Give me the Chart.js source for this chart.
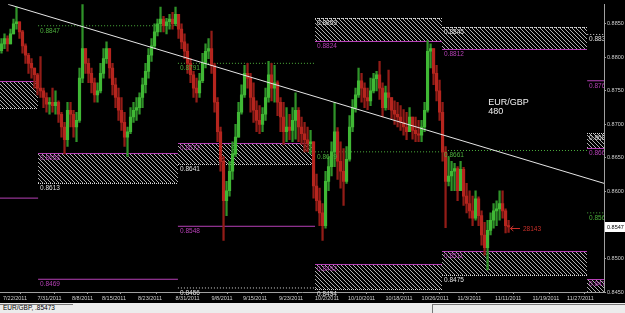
<!DOCTYPE html>
<html>
<head>
<meta charset="utf-8">
<script src="https://cdn.jsdelivr.net/npm/chart.js@4/dist/chart.umd.min.js"></script>
<style>
  html, body { margin: 0; padding: 0; background: #000; }
  #chart { display: block; }
  #tab { position: relative; width: 625px; height: 10px; background: #ececec; overflow: hidden;
         font: 6.5px "Liberation Sans", Arial, sans-serif; color: #000; line-height: 10px; }
  #tab span { position: absolute; left: 3px; top: 0; }
  #tab i { position: absolute; left: 0; top: 1px; width: 73px; border-top: 1px solid #777; }
  #tab b { position: absolute; left: 432px; top: 1px; right: 0; height: 9px; border-top: 1px solid #777; border-left: 1px solid #777; }
</style>
</head>
<body>
<canvas id="chart" width="625" height="303"></canvas>
<div id="tab"><i></i><b></b><span>EUR/GBP, .85473</span></div>
<script>
// EUR/GBP candles, one every half day
const firstOpen = 0.8810;
const close = [
  .8820,.8828,.8820,.8835,.8850,.8853,.8838,.8817,.8803,.8791,
  .8784,.8774,.8754,.8750,.8740,.8730,.8733,.8728,.8733,.8715,
  .8696,.8677,.8721,.8715,.8696,.8706,.8769,.8813,.8791,.8776,
  .8762,.8744,.8750,.8776,.8798,.8813,.8784,.8759,.8740,.8721,
  .8703,.8681,.8689,.8711,.8721,.8725,.8740,.8759,.8779,.8803,
  .8817,.8838,.8850,.8857,.8847,.8853,.8857,.8850,.8864,.8842,
  .8823,.8809,.8791,.8774,.8754,.8747,.8765,.8791,.8809,.8813,
  .8788,.8733,.8689,.8645,.8586,.8601,.8630,.8656,.8681,.8718,
  .8744,.8776,.8769,.8740,.8721,.8706,.8700,.8715,.8740,.8774,
  .8754,.8762,.8733,.8711,.8689,.8696,.8691,.8706,.8721,.8696,
  .8686,.8677,.8671,.8674,.8608,.8586,.8568,.8549,.8615,.8637,
  .8659,.8689,.8645,.8630,.8615,.8648,.8696,.8725,.8744,.8765,
  .8754,.8740,.8735,.8750,.8768,.8774,.8754,.8725,.8747,.8740,
  .8721,.8715,.8711,.8703,.8696,.8689,.8711,.8691,.8686,.8684,
  .8696,.8721,.8809,.8813,.8776,.8750,.8718,.8659,.8615,.8623,
  .8630,.8634,.8601,.8633,.8593,.8582,.8571,.8560,.8589,.8564,
  .8535,.8516,.8542,.8557,.8571,.8574,.8582,.8571,.8549,.8547
];
const high = [
  .8828,.8835,.8832,.8842,.8857,.8875,.8853,.8840,.8820,.8806,
  .8798,.8784,.8776,.8801,.8754,.8747,.8740,.8754,.8750,.8735,
  .8718,.8703,.8733,.8733,.8721,.8718,.8784,.8879,.8813,.8798,
  .8784,.8769,.8762,.8791,.8813,.8823,.8813,.8791,.8769,.8754,
  .8740,.8718,.8696,.8725,.8733,.8740,.8747,.8769,.8791,.8813,
  .8828,.8850,.8857,.8875,.8861,.8858,.8864,.8867,.8875,.8864,
  .8850,.8835,.8820,.8798,.8779,.8769,.8776,.8806,.8820,.8828,
  .8839,.8791,.8740,.8696,.8652,.8615,.8645,.8674,.8700,.8733,
  .8759,.8788,.8791,.8776,.8762,.8735,.8728,.8725,.8754,.8794,
  .8791,.8788,.8765,.8740,.8733,.8725,.8715,.8725,.8747,.8725,
  .8711,.8703,.8696,.8691,.8674,.8626,.8605,.8582,.8630,.8652,
  .8674,.8733,.8695,.8674,.8664,.8667,.8713,.8737,.8754,.8784,
  .8776,.8762,.8754,.8769,.8776,.8779,.8794,.8762,.8757,.8781,
  .8740,.8735,.8733,.8728,.8722,.8718,.8725,.8711,.8711,.8706,
  .8706,.8733,.8825,.8820,.8813,.8788,.8766,.8733,.8667,.8652,
  .8645,.8642,.8637,.8645,.8636,.8612,.8601,.8593,.8601,.8592,
  .8571,.8554,.8557,.8568,.8582,.8586,.8601,.8601,.8574,.8557
];
const low = [
  .8806,.8813,.8809,.8820,.8835,.8842,.8828,.8806,.8791,.8776,
  .8769,.8754,.8744,.8740,.8725,.8718,.8715,.8718,.8715,.8703,
  .8681,.8656,.8667,.8696,.8681,.8674,.8703,.8762,.8776,.8762,
  .8747,.8733,.8733,.8747,.8769,.8791,.8769,.8744,.8725,.8706,
  .8691,.8667,.8652,.8686,.8703,.8706,.8715,.8725,.8747,.8769,
  .8794,.8813,.8832,.8838,.8838,.8835,.8842,.8842,.8847,.8828,
  .8813,.8798,.8776,.8762,.8740,.8733,.8740,.8762,.8784,.8798,
  .8776,.8718,.8674,.8630,.8527,.8564,.8593,.8618,.8652,.8681,
  .8715,.8740,.8754,.8718,.8703,.8689,.8686,.8689,.8706,.8733,
  .8735,.8733,.8713,.8689,.8670,.8674,.8677,.8674,.8678,.8674,
  .8670,.8659,.8659,.8656,.8590,.8571,.8549,.8527,.8545,.8601,
  .8623,.8637,.8618,.8605,.8579,.8612,.8645,.8689,.8718,.8740,
  .8733,.8725,.8722,.8728,.8747,.8750,.8737,.8711,.8721,.8722,
  .8708,.8700,.8696,.8691,.8684,.8677,.8689,.8678,.8674,.8674,
  .8674,.8689,.8718,.8784,.8759,.8735,.8706,.8645,.8546,.8608,
  .8601,.8601,.8586,.8601,.8579,.8568,.8560,.8549,.8557,.8549,
  .8520,.8505,.8483,.8535,.8545,.8549,.8557,.8560,.8538,.8539
];

// date ticks (bar index where each label starts)
const datePos = [0.5, 12, 23.5, 33.5, 45.5, 58, 70, 80.5, 92.5, 104.5, 115.5, 128, 140, 152, 164.5, 177, 188.5];
const dateLabels = ['7/22/2011','7/31/2011','8/8/2011','8/15/2011','8/23/2011','8/31/2011','9/8/2011','9/15/2011',
  '9/23/2011','10/2/2011','10/10/2011','10/18/2011','10/26/2011','11/3/2011','11/11/2011','11/19/2011','11/27/2011'];
const priceTicks = [0.845, 0.850, 0.855, 0.860, 0.865, 0.870, 0.875, 0.880, 0.885];

// monthly hatched zones
const zoneFrom = [-0.5, 12.2, 58.8, 104.5, 104.5, 146.8, 146.8, 195.2, 195.2];
const zoneTo   = [12.2, 58.8, 104.5, 146.8, 146.8, 195.2, 195.2, 201, 201];
const zoneHigh = [0.8765, 0.8658, 0.8672, 0.8859, 0.8492, 0.8845, 0.8511, 0.8687, 0.8470];
const zoneLow  = [0.8725, 0.8613, 0.8641, 0.8824, 0.8454, 0.8812, 0.8475, 0.8665, 0.8450];

// single levels
const lineFrom  = [-0.5, 12.2, 12.2, 58.8, 58.8, 58.8, 104.5, 146.8, 195.2, 195.2, 195.2];
const lineTo    = [12.2, 58.8, 58.8, 104.5, 104.5, 104.5, 146.8, 195.2, 201, 201, 201];
const linePrice = [0.8590, 0.8847, 0.8469, 0.8791, 0.8548, 0.8456, 0.8659, 0.8661, 0.8834, 0.8765, 0.8568];

// trend line
const trendX = [2.2, 200.8];
const trendY = [0.8879, 0.8612];

// ---- styles ----
const GREEN = '#40b835', GREEN_W = '#2f9229', RED = '#b5251e', RED_W = '#921c17';
const MAGENTA = '#b640b6', LVL_GREEN = '#4caf3c', DOTS = '#d8d8d8';
const FONT = '"Liberation Sans", Arial, sans-serif';
const zoneMagenta = ['top', 'top', 'top', 'bottom', 'top', 'bottom', 'top', 'bottom', 'top'];
const lineKind = ['m', 'g', 'm', 'g', 'm', 'w', 'g', 'g', 'w', 'm', 'g'];

const opens = close.map((c, i) => i === 0 ? firstOpen : close[i - 1]);
const isUp = i => close[i] >= opens[i];

function makeHatch() {
  const c = document.createElement('canvas');
  c.width = 4; c.height = 4;
  const g = c.getContext('2d');
  g.fillStyle = '#b0b0b0';
  for (let i = 0; i < 4; i++) g.fillRect(i, i, 1, 1);
  return g.createPattern(c, 'repeat');
}
const hatch = makeHatch();

function hline(ctx, x0, x1, y, color, dotted) {
  ctx.save();
  ctx.strokeStyle = color;
  ctx.lineWidth = 1;
  ctx.setLineDash(dotted ? [1, 1] : []);
  ctx.beginPath();
  ctx.moveTo(x0, y + 0.5);
  ctx.lineTo(x1, y + 0.5);
  ctx.stroke();
  ctx.restore();
}

const overlay = {
  id: 'overlay',
  beforeDatasetsDraw(chart) {
    const { ctx, chartArea: a, scales: { x, y } } = chart;
    ctx.save();
    ctx.beginPath();
    ctx.rect(a.left, a.top, a.right - a.left, a.bottom - a.top);
    ctx.clip();
    zoneFrom.forEach((f, k) => {
      const x0 = Math.round(x.getPixelForValue(f));
      const x1 = Math.round(x.getPixelForValue(zoneTo[k]));
      const y0 = Math.round(y.getPixelForValue(zoneHigh[k]));
      const y1 = Math.round(y.getPixelForValue(zoneLow[k]));
      ctx.fillStyle = hatch;
      ctx.fillRect(x0, y0, x1 - x0, y1 - y0);
      const magTop = zoneMagenta[k] === 'top';
      hline(ctx, x0, x1, y0, magTop ? MAGENTA : DOTS, !magTop);
      hline(ctx, x0, x1, y1, magTop ? DOTS : MAGENTA, magTop);
    });
    ctx.restore();
  },
  afterDatasetsDraw(chart) {
    const { ctx, chartArea: a, scales: { x, y } } = chart;
    ctx.save();
    ctx.beginPath();
    ctx.rect(0, 0, a.right, chart.height);
    ctx.clip();
    ctx.font = '6.5px ' + FONT;
    ctx.textBaseline = 'top';
    ctx.textAlign = 'left';
    const lab = (from, price, color) => {
      if (from < 0) return;
      ctx.fillStyle = color;
      ctx.fillText(price.toFixed(4), Math.round(x.getPixelForValue(from)) + 2, Math.round(y.getPixelForValue(price)) + 2);
    };
    zoneFrom.forEach((f, k) => {
      const magTop = zoneMagenta[k] === 'top';
      lab(f, zoneHigh[k], magTop ? MAGENTA : '#e0e0e0');
      if (zoneLow[k] > 0.8451) lab(f, zoneLow[k], magTop ? '#e0e0e0' : MAGENTA);
    });
    lineFrom.forEach((f, k) => {
      const kind = lineKind[k];
      lab(f, linePrice[k], kind === 'g' ? LVL_GREEN : kind === 'm' ? MAGENTA : '#e0e0e0');
    });
    ctx.restore();

    // symbol caption
    ctx.save();
    ctx.fillStyle = '#f0f0f0';
    ctx.font = '9px ' + FONT;
    ctx.textBaseline = 'middle';
    ctx.fillText('EUR/GBP', x.getPixelForValue(162.2), y.getPixelForValue(0.8733));
    ctx.fillText('480', x.getPixelForValue(162.2), y.getPixelForValue(0.8719));

    // red arrow with counter
    const last = close[close.length - 1];
    const ay = Math.round(y.getPixelForValue(last)) + 1.5;
    const ax0 = x.getPixelForValue(169.6), ax1 = x.getPixelForValue(172.8);
    ctx.strokeStyle = '#c8302a';
    ctx.lineWidth = 1;
    ctx.beginPath();
    ctx.moveTo(ax1, ay); ctx.lineTo(ax0, ay);
    ctx.moveTo(ax0 + 3, ay - 2.5); ctx.lineTo(ax0, ay); ctx.lineTo(ax0 + 3, ay + 2.5);
    ctx.stroke();
    ctx.fillStyle = '#c8302a';
    ctx.font = '6.5px ' + FONT;
    ctx.fillText('28143', x.getPixelForValue(173.8), ay + 1);
    ctx.restore();
  },
  afterDraw(chart) {
    const { ctx, chartArea: a, scales: { y } } = chart;
    const last = close[close.length - 1];
    const py = Math.round(y.getPixelForValue(last));
    ctx.save();
    ctx.fillStyle = '#ffffff';
    ctx.fillRect(a.right + 1, py - 5, chart.width - a.right - 1, 10);
    ctx.fillStyle = '#000';
    ctx.font = '5.5px ' + FONT;
    ctx.textBaseline = 'middle';
    ctx.fillText(last.toFixed(4), a.right + 3, py);
    ctx.restore();
  }
};

const bodies = close.map((c, i) => ({ x: i, y: [opens[i], c] }));
const wicks = close.map((c, i) => ({ x: i, y: [low[i], high[i]] }));

const levelSets = lineFrom.map((f, k) => ({
  type: 'line',
  data: [{ x: f, y: linePrice[k] }, { x: lineTo[k], y: linePrice[k] }],
  borderColor: lineKind[k] === 'g' ? LVL_GREEN : lineKind[k] === 'm' ? MAGENTA : DOTS,
  borderDash: lineKind[k] === 'm' ? [] : [1, 2],
  borderWidth: 1,
  pointRadius: 0,
  order: 3
}));

new Chart(document.getElementById('chart'), {
  type: 'bar',
  data: {
    datasets: [
      {
        type: 'line',
        data: trendX.map((v, i) => ({ x: v, y: trendY[i] })),
        borderColor: '#e6e6e6',
        borderWidth: 1,
        pointRadius: 0,
        order: 0
      },
      {
        data: bodies,
        grouped: false,
        barThickness: 2.5,
        minBarLength: 1,
        backgroundColor: c => isUp(c.dataIndex) ? GREEN : RED,
        borderWidth: 0,
        order: 1
      },
      {
        data: wicks,
        grouped: false,
        barThickness: 1.6,
        backgroundColor: c => isUp(c.dataIndex) ? GREEN_W : RED_W,
        borderWidth: 0,
        order: 2
      },
      ...levelSets
    ]
  },
  options: {
    responsive: false,
    animation: false,
    devicePixelRatio: 1,
    layout: { padding: 0 },
    plugins: { legend: { display: false }, tooltip: { enabled: false } },
    scales: {
      x: {
        type: 'linear',
        min: -0.5,
        max: 200.8,
        offset: false,
        afterBuildTicks: s => { s.ticks = datePos.map(v => ({ value: v })); },
        afterFit: s => { s.height = 11; },
        ticks: {
          autoSkip: false,
          maxRotation: 0,
          align: 'start',
          padding: 1,
          color: '#d0d0d0',
          font: { family: FONT, size: 5.5 },
          callback: (v, i) => dateLabels[i]
        },
        grid: { drawOnChartArea: false, tickLength: 2, color: '#a0a0a0' },
        border: { color: '#a0a0a0' }
      },
      y: {
        position: 'right',
        min: 0.845,
        max: 0.8879,
        afterBuildTicks: s => { s.ticks = priceTicks.map(v => ({ value: v })); },
        afterFit: s => { s.width = 21; },
        ticks: {
          padding: 1,
          color: '#d0d0d0',
          font: { family: FONT, size: 5.5 },
          callback: v => v.toFixed(4)
        },
        grid: { drawOnChartArea: false, tickLength: 2, color: '#a0a0a0' },
        border: { color: '#a0a0a0' }
      }
    }
  },
  plugins: [overlay]
});
</script>
</body>
</html>
